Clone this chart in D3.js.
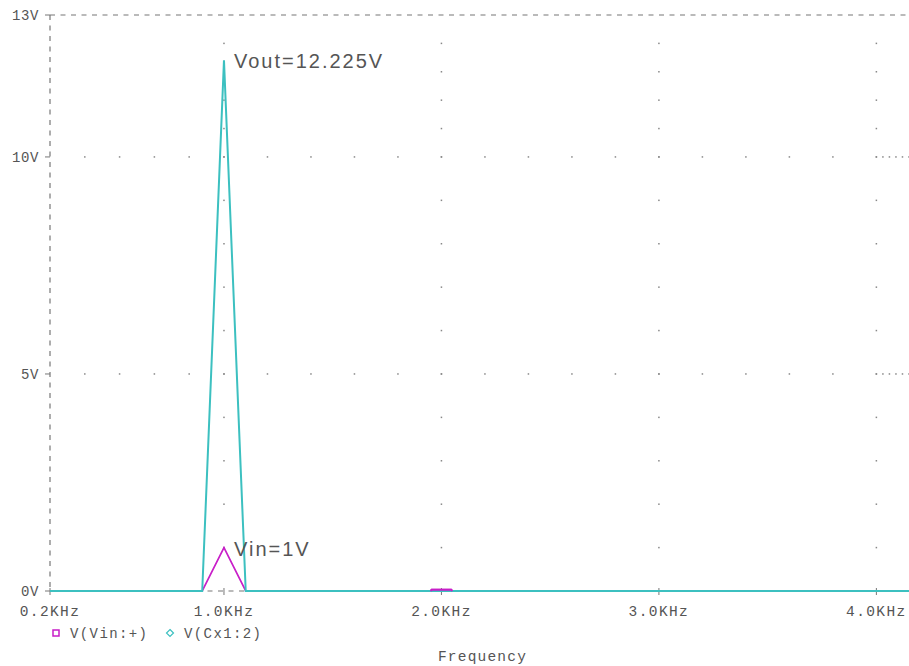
<!DOCTYPE html>
<html>
<head>
<meta charset="utf-8">
<script src="https://cdn.jsdelivr.net/npm/d3@7"></script>
<style>
  body { margin: 0; background: #fff; }
</style>
</head>
<body>
<div></div>
<script>
// frequency sweep data (KHz / V)
var vinFreq  = [0.2, 0.9, 1.0, 1.1, 1.95, 1.955, 2.045, 2.05, 4.15];
var vinVolts = [0,   0,   1,   0,   0,    0.03,  0.03,  0,    0];
var voutFreq  = [0.2, 0.9, 1.0,    1.1, 4.15];
var voutVolts = [0,   0,   12.225, 0,   0];

var xTickValues = [0.2, 1.0, 2.0, 3.0, 4.0];
var xTickLabels = ["0.2KHz", "1.0KHz", "2.0KHz", "3.0KHz", "4.0KHz"];
var yTickValues = [0, 5, 10, 13.27];
var yTickLabels = ["0V", "5V", "10V", "13V"];

var seriesNames = ["V(Vin:+)", "V(Cx1:2)"];
var annotations = [
  {text: "Vout=12.225V", f: 1.0, v: 12.225},
  {text: "Vin=1V", f: 1.0, v: 1}
];

var margin = {top: 15, right: 0, bottom: 75, left: 50};
var width = 909 - margin.left - margin.right;
var height = 666 - margin.top - margin.bottom;

var magenta = "#c81ec8";
var cyan = "#3cc0c0";
var gray = "#777";
var textGray = "#555";
var mono = "'Liberation Mono', 'DejaVu Sans Mono', monospace";

var x = d3.scaleLinear().domain([0.2, 4.15]).range([0, width]);
var y = d3.scaleLinear().domain([0, 13.27]).range([height, 0]);

var svg = d3.select("div").append("svg")
    .attr("width", 909)
    .attr("height", 666)
  .append("g")
    .attr("transform", `translate(${margin.left},${margin.top})`);

// dotted grid: every interval between ticks split in 5
function subdivide(bounds) {
  var out = [];
  for (var i = 0; i < bounds.length - 1; i++) {
    for (var k = 0; k < 5; k++) out.push(bounds[i] + (bounds[i + 1] - bounds[i]) * k / 5);
  }
  out.push(bounds[bounds.length - 1]);
  return out;
}
var xSub = subdivide(xTickValues.concat([x.domain()[1]]));
var ySub = subdivide(yTickValues);

var grid = svg.append("g").attr("fill", "#888");
[5, 10].forEach(function(v) {
  grid.selectAll(null).data(xSub.slice(1)).enter().append("rect")
    .attr("x", d => x(d) - 0.75).attr("y", y(v) - 0.75)
    .attr("width", 1.5).attr("height", 1.5);
});
[1, 2, 3, 4].forEach(function(f) {
  grid.selectAll(null).data(ySub.slice(1, -1)).enter().append("rect")
    .attr("x", x(f) - 0.75).attr("y", d => y(d) - 0.75)
    .attr("width", 1.5).attr("height", 1.5);
});

// frame: dashed top and left, dashed x axis
svg.append("line")
  .attr("x1", 0).attr("x2", width).attr("y1", 0).attr("y2", 0)
  .attr("stroke", gray).attr("stroke-width", 1.2).attr("stroke-dasharray", "5,5.5");
svg.append("line")
  .attr("x1", 0).attr("x2", 0).attr("y1", 0).attr("y2", height)
  .attr("stroke", gray).attr("stroke-width", 1.2).attr("stroke-dasharray", "5,5.5");
svg.append("line")
  .attr("x1", 0).attr("x2", width).attr("y1", height).attr("y2", height)
  .attr("stroke", gray).attr("stroke-width", 1.2).attr("stroke-dasharray", "5,5.5");

// ticks
svg.selectAll(".xtick").data(xTickValues).enter().append("line")
  .attr("x1", d => x(d)).attr("x2", d => x(d))
  .attr("y1", height - 3).attr("y2", height + 4)
  .attr("stroke", gray);
svg.selectAll(".ytick").data(yTickValues).enter().append("line")
  .attr("x1", -5).attr("x2", 0)
  .attr("y1", d => y(d)).attr("y2", d => y(d))
  .attr("stroke", gray);

// tick labels
svg.selectAll(".xlab").data(xTickValues).enter().append("text")
  .attr("x", d => x(d)).attr("y", height + 25)
  .attr("text-anchor", "middle")
  .style("font-family", mono).style("font-size", "14.5px")
  .style("letter-spacing", "1.4px").style("fill", textGray)
  .text((d, i) => xTickLabels[i]);
svg.selectAll(".ylab").data(yTickValues).enter().append("text")
  .attr("x", -11).attr("y", d => y(d) + 5)
  .attr("text-anchor", "end")
  .style("font-family", mono).style("font-size", "14px")
  .style("letter-spacing", "0.6px").style("fill", textGray)
  .text((d, i) => yTickLabels[i]);

// axis title
svg.append("text")
  .attr("x", (x(0.2) + x(4.15)) / 2 + 3).attr("y", height + 70)
  .attr("text-anchor", "middle")
  .style("font-family", mono).style("font-size", "14.5px")
  .style("letter-spacing", "1.2px").style("fill", textGray)
  .text("Frequency");

// traces
var line = d3.line()
  .x(d => x(d[0]))
  .y(d => y(d[1]));

svg.append("path")
  .datum(d3.zip(vinFreq, vinVolts))
  .attr("d", line)
  .attr("fill", "none").attr("stroke", magenta).attr("stroke-width", 1.7);
svg.append("path")
  .datum(d3.zip(voutFreq, voutVolts))
  .attr("d", line)
  .attr("fill", "none").attr("stroke", cyan).attr("stroke-width", 2);

// 2KHz blip of Vin shows above the cyan baseline
svg.append("path")
  .datum(d3.zip(vinFreq, vinVolts).slice(4, 8))
  .attr("d", line)
  .attr("fill", "none").attr("stroke", magenta).attr("stroke-width", 2);

// annotations
svg.selectAll(".ann").data(annotations).enter().append("text")
  .attr("x", d => x(d.f) + 10).attr("y", d => y(d.v) + 8)
  .style("font-family", "'Liberation Sans', Arial, sans-serif")
  .style("font-size", "20px").style("letter-spacing", "2px")
  .style("fill", textGray)
  .text(d => d.text);

// legend
var legend = svg.append("g")
  .attr("transform", `translate(0,${height + 42})`);
legend.append("rect")
  .attr("x", 3).attr("y", -3).attr("width", 6).attr("height", 6)
  .attr("fill", "none").attr("stroke", magenta).attr("stroke-width", 1.5);
legend.append("path")
  .attr("d", "M120,-3.5 L123.5,0 L120,3.5 L116.5,0 Z")
  .attr("fill", "none").attr("stroke", cyan).attr("stroke-width", 1.2);
legend.selectAll("text").data(seriesNames).enter().append("text")
  .attr("x", (d, i) => i === 0 ? 20 : 134).attr("y", 5)
  .style("font-family", mono).style("font-size", "14px")
  .style("letter-spacing", "1.4px").style("fill", textGray)
  .text(d => d);
</script>
</body>
</html>
